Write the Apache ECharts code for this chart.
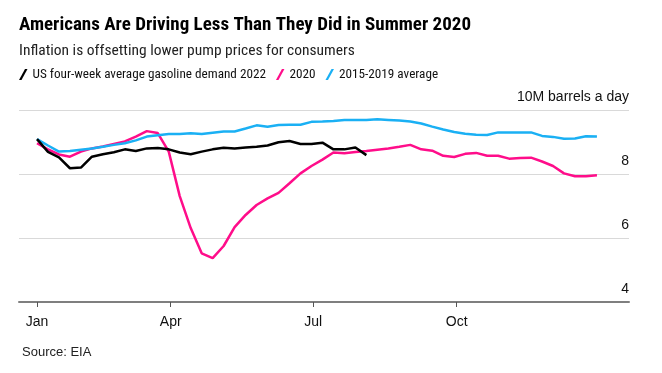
<!DOCTYPE html>
<html>
<head>
<meta charset="utf-8">
<script src="https://cdn.jsdelivr.net/npm/echarts@6/dist/echarts.min.js"></script>
<style>
html,body{margin:0;padding:0;background:#fff;}
#c{width:662px;height:373px;}
</style>
</head>
<body>
<div id="c"></div>
<script>
// Weekly gasoline demand, million barrels a day (week index 0..51)
const demand2022 = [9.09,8.69,8.52,8.18,8.20,8.54,8.62,8.68,8.77,8.72,8.80,8.81,8.77,8.67,8.62,8.70,8.77,8.82,8.80,8.83,8.85,8.89,8.99,9.03,8.94,8.94,8.98,8.77,8.77,8.83,8.59];
const demand2020 = [8.96,8.77,8.61,8.54,8.70,8.80,8.86,8.94,9.02,9.17,9.34,9.28,8.70,7.31,6.31,5.52,5.37,5.75,6.34,6.72,7.03,7.24,7.41,7.71,8.02,8.25,8.45,8.67,8.65,8.69,8.72,8.76,8.80,8.85,8.91,8.77,8.73,8.57,8.53,8.63,8.66,8.57,8.57,8.48,8.50,8.51,8.39,8.25,8.02,7.93,7.93,7.96];
const avg2015_2019 = [9.09,8.89,8.70,8.72,8.76,8.80,8.85,8.91,8.96,9.05,9.17,9.21,9.25,9.25,9.27,9.25,9.29,9.33,9.33,9.42,9.52,9.48,9.53,9.54,9.54,9.63,9.64,9.66,9.69,9.69,9.69,9.71,9.69,9.67,9.64,9.58,9.48,9.39,9.31,9.26,9.23,9.22,9.30,9.30,9.30,9.30,9.19,9.16,9.10,9.11,9.18,9.17];
const monthTickWeeks = [0, 12.18, 25.16, 38.22];
const monthTickLabels = ['Jan', 'Apr', 'Jul', 'Oct'];
const yTicks = [4, 6, 8, 10];
const seriesNames = ['US four-week average gasoline demand 2022', '2020', '2015-2019 average'];

const toPairs = arr => arr.map((v, i) => [i, v]);
const FONT = '"Liberation Sans", Arial, sans-serif';
const NARROW = '"Liberation Sans Narrow", "Roboto Condensed", "DejaVu Sans Condensed", sans-serif';
const slash = 'path://M6,0 L8.5,0 L2.5,11 L0,11 Z';

const chart = echarts.init(document.getElementById('c'), null, {renderer: 'canvas'});
chart.setOption({
  animation: false,
  backgroundColor: '#fff',
  title: [
    {text: 'Americans Are Driving Less Than They Did in Summer 2020', left: 14, top: 11,
     textStyle: {fontFamily: NARROW, fontSize: 19, fontWeight: 'bold', color: '#000'}},
    {text: 'Inflation is offsetting lower pump prices for consumers', left: 14, top: 38,
     textStyle: {fontFamily: NARROW, fontSize: 15.5, fontWeight: 'normal', color: '#222'}},
    {text: 'Source: EIA', left: 17, top: 341,
     textStyle: {fontFamily: FONT, fontSize: 13, fontWeight: 'normal', color: '#222'}}
  ],
  legend: {
    left: 14, top: 63, itemGap: 10, itemWidth: 8.5, itemHeight: 11,
    selectedMode: false,
    textStyle: {fontFamily: NARROW, fontSize: 13.2, color: '#111'},
    data: seriesNames.map((n, i) => ({name: n, icon: slash}))
  },
  grid: {left: 19, right: 33, top: 110, bottom: 71, containLabel: false},
  xAxis: {
    type: 'value', min: -1.64, max: 53.92,
    axisLine: {show: true, lineStyle: {color: '#7f7f7f', width: 2}},
    axisTick: {show: true, customValues: monthTickWeeks, length: 5, lineStyle: {color: '#555', width: 1}},
    axisLabel: {show: true, customValues: monthTickWeeks, margin: 13,
      fontFamily: FONT, fontSize: 14, color: '#111',
      formatter: v => { const i = monthTickWeeks.findIndex(t => Math.abs(t - v) < 0.01); return i >= 0 ? monthTickLabels[i] : ''; }},
    splitLine: {show: false}
  },
  yAxis: {
    type: 'value', position: 'right', min: 4, max: 10, interval: 2,
    axisLine: {show: false}, axisTick: {show: false},
    axisLabel: {inside: true, margin: 0, verticalAlign: 'bottom', padding: [0, 0, 6, 0],
      fontFamily: FONT, fontSize: 14, color: '#111',
      formatter: v => v === yTicks[yTicks.length - 1] ? v + 'M barrels a day' : String(v)},
    splitLine: {show: true, lineStyle: {color: '#d9d9d9', width: 1}}
  },
  series: [
    {name: seriesNames[0], type: 'line', data: toPairs(demand2022), showSymbol: false, symbol: 'none', z: 5,
     itemStyle: {color: '#000'}, lineStyle: {color: '#000', width: 2.5}},
    {name: seriesNames[1], type: 'line', data: toPairs(demand2020), showSymbol: false, symbol: 'none', z: 3,
     itemStyle: {color: '#ff0d8a'}, lineStyle: {color: '#ff0d8a', width: 2.5}},
    {name: seriesNames[2], type: 'line', data: toPairs(avg2015_2019), showSymbol: false, symbol: 'none', z: 4,
     itemStyle: {color: '#1ab0f4'}, lineStyle: {color: '#1ab0f4', width: 2.5}}
  ]
});
</script>
</body>
</html>
